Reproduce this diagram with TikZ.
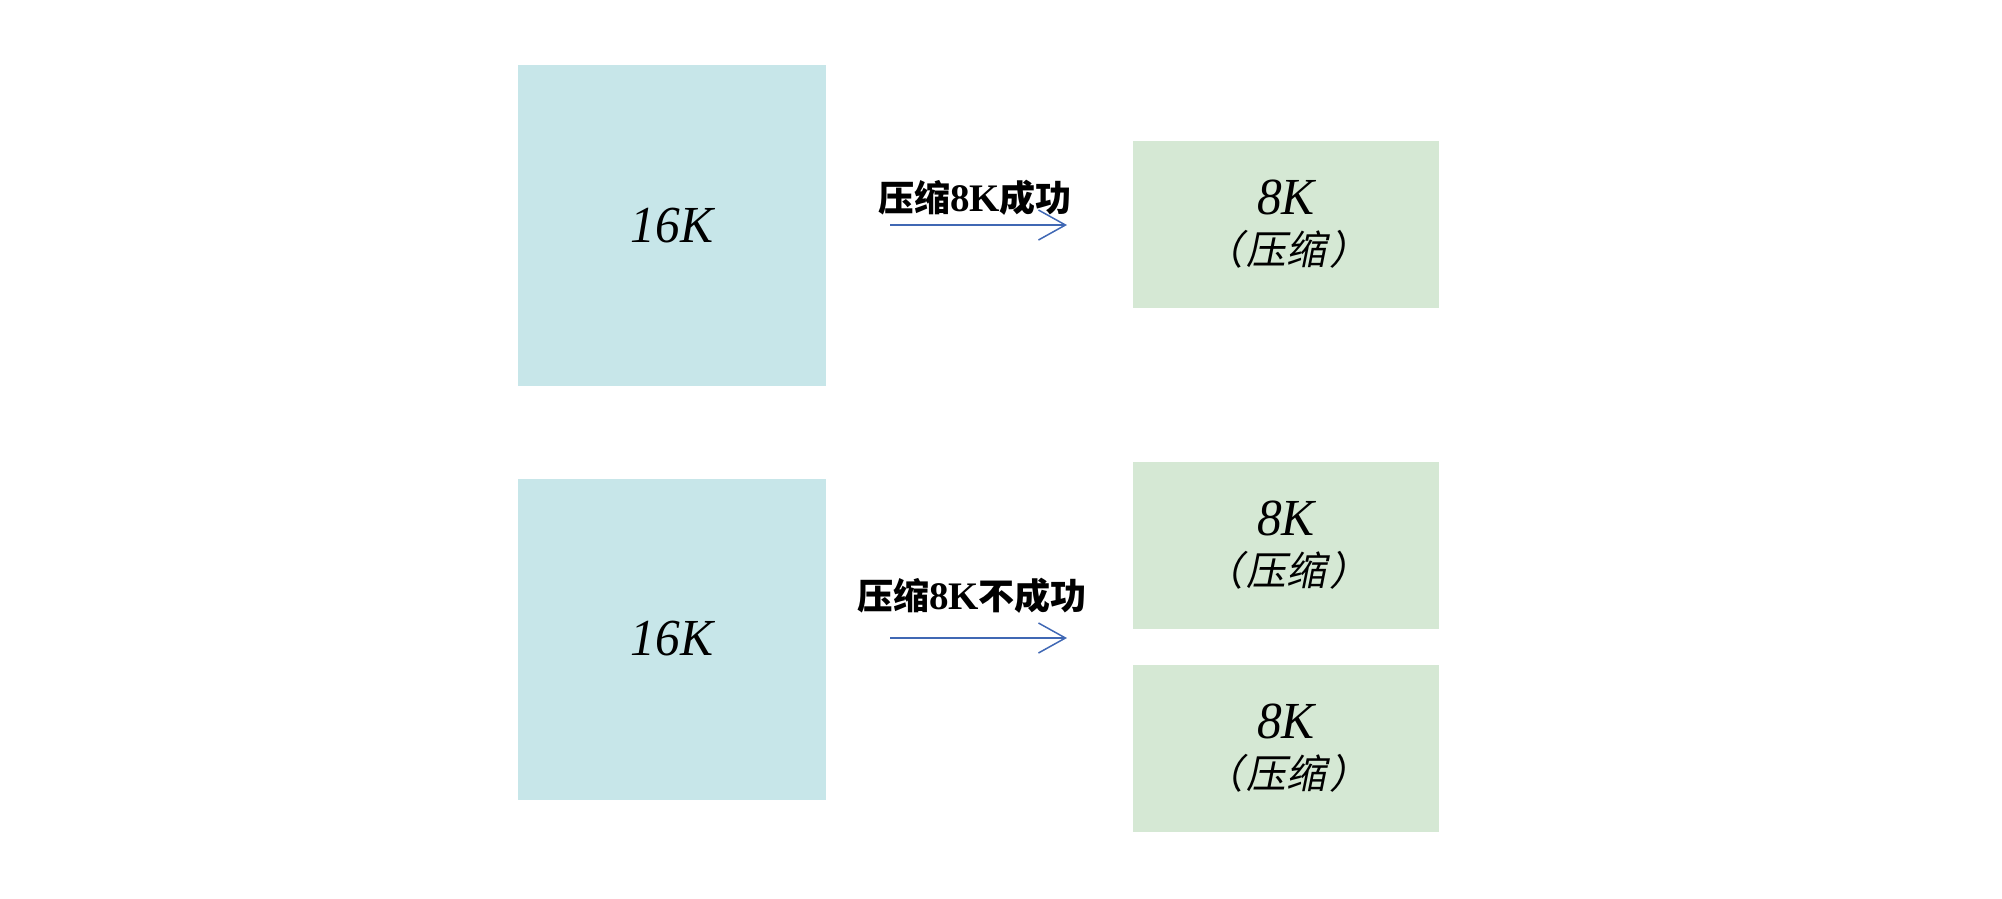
\documentclass[tikz,border=0pt]{standalone}
\usepackage{fontspec}
\setmainfont{Liberation Serif}
\newfontfamily\boxfont[FakeStretch=0.95]{Liberation Serif}
\newfontfamily\cjk{Noto Sans CJK SC}
\newfontfamily\cjkit[FakeSlant=0.2]{Noto Sans CJK SC}
\usetikzlibrary{arrows.meta}
\definecolor{bigblue}{HTML}{C7E6E9}
\definecolor{smallgreen}{HTML}{D5E8D4}
\definecolor{arrowblue}{HTML}{4068B4}
\tikzset{
  bigbox/.style={fill=bigblue, draw=none, minimum width=308pt, minimum height=321pt, inner sep=0pt,
    font=\boxfont\fontsize{52}{56}\selectfont\itshape},
  smallbox/.style={fill=smallgreen, draw=none, minimum width=306pt, minimum height=167pt, inner sep=0pt, align=center,
    font=\boxfont\fontsize{52}{50}\selectfont\itshape},
  lbl/.style={font=\fontsize{36}{40}\selectfont\bfseries\cjk, inner sep=0pt},
  conn/.style={draw=arrowblue, line width=1.5pt, -{Straight Barb[length=27pt, width=30pt, line width=1.5pt]}},
}
\newcommand{\smalltxt}{8K\\{\cjkit\fontsize{40}{50}\selectfont （\hspace{3pt}压缩\hspace{3pt}）}}
\newcommand{\eightK}{{\rmfamily\fontsize{39}{40}\selectfont\bfseries 8K}}
\begin{document}
\begin{tikzpicture}[x=1pt,y=-1pt]
\useasboundingbox (0,0) rectangle (2002,898);
% top row
\node[bigbox] (a1) at (672,225.5) {16K};
\node[smallbox] (b1) at (1286,224.5) {\smalltxt};
\coordinate (s1) at (890,225);
\coordinate (e1) at (1067,225);
\draw[conn] (s1) -- (e1);
\node[lbl] (l1) at (975,198) {压缩\eightK 成功};
% bottom row
\node[bigbox] (a2) at (672,639) {16K};
\node[smallbox] (b2) at (1286,545.5) {\smalltxt};
\node[smallbox] (b3) at (1286,748) {\smalltxt};
\coordinate (s2) at (890,638);
\coordinate (e2) at (1067,638);
\draw[conn] (s2) -- (e2);
\node[lbl] (l2) at (972,596) {压缩\eightK 不成功};
\end{tikzpicture}
\end{document}
